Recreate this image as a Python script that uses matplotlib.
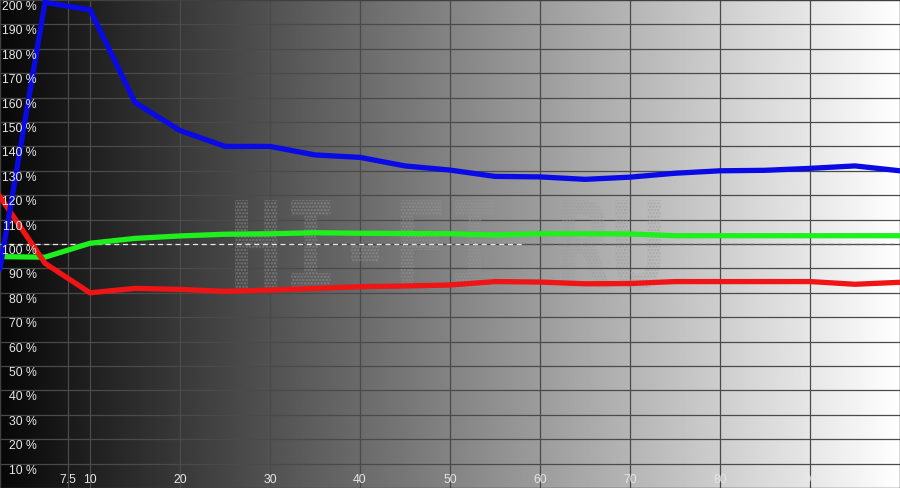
import numpy as np
import matplotlib
matplotlib.use("Agg")
import matplotlib.pyplot as plt
from matplotlib.textpath import TextPath
from matplotlib.patches import PathPatch
from matplotlib.font_manager import FontProperties
from matplotlib.path import Path

# ---------------- data ----------------
x_steps = [0, 5, 10, 15, 20, 25, 30, 35, 40, 45, 50, 55, 60, 65, 70, 75, 80, 85, 90, 95, 100]
blue = [90, 199, 196, 158, 146.5, 140, 140, 136.5, 135.5, 132, 130.3, 127.7, 127.5, 126.5,
        127.4, 129, 130, 130.2, 131, 132, 130]
green_x = [0.5, 5, 10, 15, 20, 25, 30, 35, 40, 45, 50, 55, 60, 65, 70, 75, 80, 85, 90, 95, 100]
green = [94.8, 94.6, 100.3, 102.3, 103.3, 104, 104.2, 104.6, 104.4, 104.3, 104.2, 103.7, 104.2,
         104.2, 104.1, 103.4, 103.4, 103.4, 103.4, 103.4, 103.4]
red = [119.4, 92.1, 80, 81.8, 81.4, 80.6, 81.1, 81.8, 82.5, 82.8, 83.2, 84.6, 84.4, 83.7,
       83.8, 84.6, 84.6, 84.6, 84.6, 83.5, 84.3]

x_ticks = [7.5, 10, 20, 30, 40, 50, 60, 70, 80, 90]
x_labels = ["7.5", "10", "20", "30", "40", "50", "60", "70", "80", "90"]
y_ticks = list(range(10, 210, 10))
y_labels = [f"{v} %" for v in y_ticks]
reference_level = 100
watermark = "HI-FI.RU"

# ---------------- figure ----------------
fig = plt.figure(figsize=(9, 4.88), dpi=100)
ax = fig.add_axes([0, 0, 1, 1])
ax.set_xlim(0, 100)
ax.set_ylim(0, 200)

# background gradient black -> white
grad = np.linspace(0.03, 1.0, 512).reshape(1, -1)
ax.imshow(grad, extent=[0, 100, 0, 200], aspect="auto", cmap="gray",
          vmin=0, vmax=1, zorder=0, interpolation="bilinear")

# grid
grid_c = "#4a4a4a"
for xv in x_ticks:
    ax.axvline(xv, color=grid_c, lw=0.9, zorder=1)
for yv in y_ticks[:-1]:
    ax.axhline(yv, color=grid_c, lw=0.9, zorder=1)

# watermark (dot matrix style)
plt.rcParams["hatch.linewidth"] = 1.2
fp = FontProperties(family="DejaVu Sans Mono", weight="bold")
tp = TextPath((0, 0), watermark, size=100, prop=fp)
verts = tp.vertices.copy()
ext = tp.get_extents()
x0, x1 = 26.1, 73.4
y0, y1 = 81.1, 118.0
verts[:, 0] = x0 + (verts[:, 0] - ext.x0) / (ext.x1 - ext.x0) * (x1 - x0)
verts[:, 1] = y0 + (verts[:, 1] - ext.y0) / (ext.y1 - ext.y0) * (y1 - y0)
wm = PathPatch(Path(verts, tp.codes), facecolor="none", edgecolor="#9a9a9a",
               lw=0, hatch=".....", alpha=0.55, zorder=2)
ax.add_patch(wm)

# 100% reference dashed line
ax.plot([0, 58], [reference_level] * 2, color="#e8e8e8", lw=0.9,
        dashes=(4, 3), zorder=3)
ax.plot([58, 100], [reference_level] * 2, color="#5a5a5a", lw=0.9,
        dashes=(4, 3), zorder=3)

# curves
ax.plot(green_x, green, color="#1ef01e", lw=3.8, zorder=4, solid_joinstyle="miter")
ax.plot(x_steps, red, color="#f01414", lw=3.8, zorder=5, solid_joinstyle="miter")
ax.plot(x_steps, blue, color="#0a0ae6", lw=3.8, zorder=6, solid_joinstyle="miter")

# tick labels inside the plot
lab_font = dict(family="Liberation Sans", size=8.8, color="#e6e6e6")
for yv, lab in zip(y_ticks, y_labels):
    ax.text(4.1, yv - 2.9, lab, ha="right", va="center", zorder=7, **lab_font)
for xv, lab in zip(x_ticks, x_labels):
    ax.text(xv, 3.2, lab, ha="center", va="center", zorder=7, **lab_font)

ax.set_xticks([])
ax.set_yticks([])
for s in ax.spines.values():
    s.set_color("#404040")
    s.set_linewidth(1.0)

fig.savefig("out.png", dpi=100)
